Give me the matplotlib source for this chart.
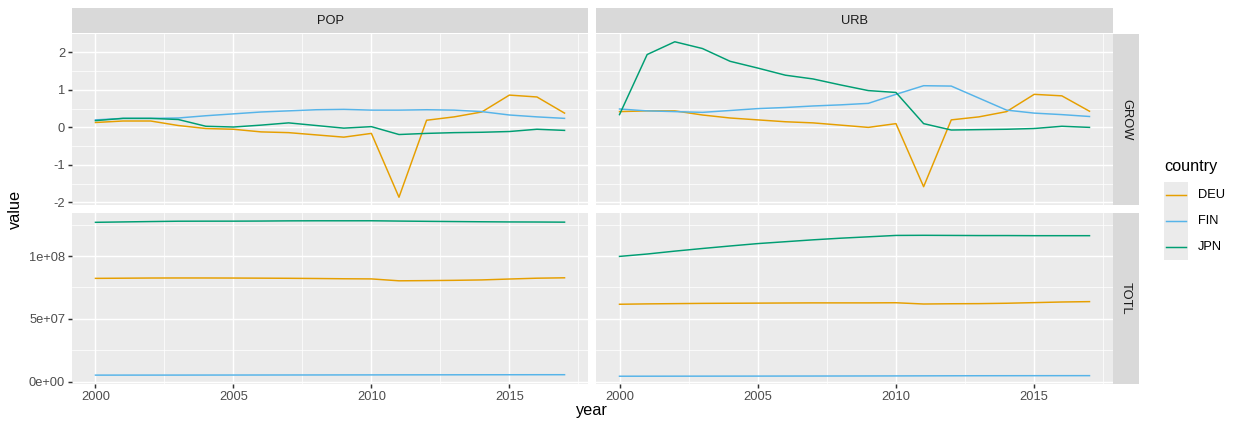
import matplotlib
matplotlib.use("Agg")
import matplotlib.pyplot as plt
from matplotlib.lines import Line2D
from matplotlib.patches import Rectangle

plt.rcParams['font.family'] = ['Liberation Sans', 'DejaVu Sans']

years = list(range(2000, 2018))
countries = ["DEU", "FIN", "JPN"]
colors = ["#E69F00", "#56B4E9", "#009E73"]
col_facets = ["POP", "URB"]
row_facets = ["GROW", "TOTL"]

# growth rates (%)
pop_grow_deu = [0.13, 0.17, 0.17, 0.05, -0.03, -0.05, -0.12, -0.14, -0.20, -0.26,
                -0.16, -1.86, 0.19, 0.28, 0.41, 0.86, 0.81, 0.38]
pop_grow_fin = [0.20, 0.24, 0.24, 0.25, 0.31, 0.36, 0.41, 0.44, 0.47, 0.48,
                0.46, 0.46, 0.47, 0.46, 0.42, 0.33, 0.28, 0.24]
pop_grow_jpn = [0.18, 0.24, 0.24, 0.21, 0.03, 0.01, 0.06, 0.12, 0.05, -0.02,
                0.02, -0.19, -0.16, -0.14, -0.13, -0.11, -0.05, -0.08]
urb_grow_deu = [0.42, 0.44, 0.44, 0.33, 0.25, 0.20, 0.15, 0.12, 0.06, 0.00,
                0.10, -1.58, 0.20, 0.28, 0.42, 0.88, 0.84, 0.43]
urb_grow_fin = [0.49, 0.44, 0.42, 0.40, 0.45, 0.50, 0.53, 0.57, 0.60, 0.64,
                0.88, 1.11, 1.10, 0.78, 0.46, 0.38, 0.34, 0.29]
urb_grow_jpn = [0.34, 1.94, 2.28, 2.10, 1.76, 1.58, 1.39, 1.29, 1.13, 0.98,
                0.93, 0.10, -0.07, -0.06, -0.05, -0.03, 0.03, 0.00]

# totals
pop_totl_deu = [82.21e6, 82.35e6, 82.49e6, 82.53e6, 82.52e6, 82.47e6, 82.38e6, 82.27e6, 82.11e6, 81.90e6,
                81.78e6, 80.27e6, 80.43e6, 80.65e6, 80.98e6, 81.69e6, 82.35e6, 82.66e6]
pop_totl_fin = [5.18e6, 5.19e6, 5.20e6, 5.21e6, 5.23e6, 5.25e6, 5.27e6, 5.29e6, 5.31e6, 5.34e6,
                5.36e6, 5.39e6, 5.41e6, 5.44e6, 5.46e6, 5.48e6, 5.50e6, 5.51e6]
pop_totl_jpn = [126.84e6, 127.15e6, 127.45e6, 127.72e6, 127.76e6, 127.77e6, 127.85e6, 128.00e6, 128.06e6, 128.05e6,
                128.07e6, 127.83e6, 127.63e6, 127.45e6, 127.28e6, 127.14e6, 127.08e6, 126.97e6]
urb_totl_deu = [61.6e6, 61.9e6, 62.1e6, 62.3e6, 62.4e6, 62.5e6, 62.6e6, 62.7e6, 62.7e6, 62.7e6,
                62.8e6, 61.8e6, 62.0e6, 62.1e6, 62.4e6, 62.9e6, 63.4e6, 63.7e6]
urb_totl_fin = [4.30e6, 4.32e6, 4.34e6, 4.36e6, 4.38e6, 4.40e6, 4.43e6, 4.45e6, 4.48e6, 4.51e6,
                4.55e6, 4.60e6, 4.65e6, 4.69e6, 4.71e6, 4.73e6, 4.75e6, 4.76e6]
urb_totl_jpn = [99.7e6, 101.6e6, 103.9e6, 106.0e6, 108.0e6, 109.9e6, 111.4e6, 112.9e6, 114.2e6, 115.3e6,
                116.4e6, 116.5e6, 116.4e6, 116.3e6, 116.3e6, 116.2e6, 116.2e6, 116.2e6]

data = {
    ("GROW", "POP"): [pop_grow_deu, pop_grow_fin, pop_grow_jpn],
    ("GROW", "URB"): [urb_grow_deu, urb_grow_fin, urb_grow_jpn],
    ("TOTL", "POP"): [pop_totl_deu, pop_totl_fin, pop_totl_jpn],
    ("TOTL", "URB"): [urb_totl_deu, urb_totl_fin, urb_totl_jpn],
}
row_major = {"GROW": [-2, -1, 0, 1, 2], "TOTL": [0, 5e7, 1e8]}
row_minor = {"GROW": [-1.5, -0.5, 0.5, 1.5], "TOTL": [2.5e7, 7.5e7, 1.25e8]}
row_fmt = {"GROW": lambda v: f"{v:.0f}", "TOTL": lambda v: f"{v:.0e}"}
x_major = [2000, 2005, 2010, 2015]
x_minor = [2002.5, 2007.5, 2012.5, 2017.5]

W, H = 1242, 432
fig = plt.figure(figsize=(W / 100, H / 100), dpi=100)
fig.patch.set_facecolor("white")

FS_SMALL = 9.3
FS_BIG = 11.7


def px_axes(x0, y0, x1, y1):
    return fig.add_axes([x0 / W, 1 - y1 / H, (x1 - x0) / W, (y1 - y0) / H])


col_x = [(72, 588), (596, 1113)]
row_y = [(34, 205), (213, 384)]

LW_GRID = 1.07
GREY30 = "#4D4D4D"

for ri, rname in enumerate(row_facets):
    vals_all = [v for cname in col_facets for s in data[(rname, cname)] for v in s]
    lo, hi = min(vals_all), max(vals_all)
    pad = 0.05 * (hi - lo)
    for ci, cname in enumerate(col_facets):
        x0, x1 = col_x[ci]
        y0, y1 = row_y[ri]
        ax = px_axes(x0, y0, x1, y1)
        ax.set_facecolor("#EBEBEB")
        for sp in ax.spines.values():
            sp.set_visible(False)
        ax.set_xlim(2000 - 0.05 * 17, 2017 + 0.05 * 17)
        ax.set_ylim(lo - pad, hi + pad)
        ax.set_xticks(x_major)
        ax.set_xticks(x_minor, minor=True)
        ax.set_yticks(row_major[rname])
        ax.set_yticks(row_minor[rname], minor=True)
        ax.grid(which="major", color="white", lw=LW_GRID)
        ax.grid(which="minor", color="white", lw=LW_GRID / 2)
        ax.set_axisbelow(True)
        ax.tick_params(which="minor", length=0)
        ax.tick_params(which="major", length=2.75, width=LW_GRID, color="#333333",
                       labelsize=FS_SMALL, labelcolor=GREY30, pad=2.2)
        ax.set_yticklabels([row_fmt[rname](v) for v in row_major[rname]])
        ax.set_xticklabels([str(v) for v in x_major])
        if ci != 0:
            ax.tick_params(axis="y", which="major", length=0, labelleft=False)
        if ri != len(row_facets) - 1:
            ax.tick_params(axis="x", which="major", length=0, labelbottom=False)
        for k, series in enumerate(data[(rname, cname)]):
            ax.plot(years, series, color=colors[k], lw=1.07, solid_joinstyle="round")

# strips
for ci, cname in enumerate(col_facets):
    x0, x1 = col_x[ci]
    sax = px_axes(x0, 8, x1, 33)
    sax.set_facecolor("#D9D9D9")
    sax.set_xticks([]); sax.set_yticks([])
    for sp in sax.spines.values():
        sp.set_visible(False)
    sax.text(0.5, 0.5, cname, ha="center", va="center", fontsize=FS_SMALL,
             color="#1A1A1A", transform=sax.transAxes)
for ri, rname in enumerate(row_facets):
    y0, y1 = row_y[ri]
    sax = px_axes(1113, y0, 1139, y1)
    sax.set_facecolor("#D9D9D9")
    sax.set_xticks([]); sax.set_yticks([])
    for sp in sax.spines.values():
        sp.set_visible(False)
    sax.text(0.5, 0.5, rname, ha="center", va="center", fontsize=FS_SMALL,
             color="#1A1A1A", rotation=-90, transform=sax.transAxes)

# axis titles
fig.text(15 / W, 1 - 209 / H, "value", rotation=90, ha="center", va="center",
         fontsize=FS_BIG, color="black")
fig.text(592 / W, 1 - 411 / H, "year", ha="center", va="center",
         fontsize=FS_BIG, color="black")

# legend
fig.text(1164 / W, 1 - 167 / H, "country", ha="left", va="center", fontsize=FS_BIG, color="black")
key_top = 182
key_h = 26
for k, name in enumerate(countries):
    ky0 = key_top + k * key_h
    fig.patches.append(Rectangle((1164 / W, 1 - (ky0 + key_h) / H), 24 / W, key_h / H,
                                 transform=fig.transFigure, facecolor="#EBEBEB",
                                 edgecolor="none"))
    yc = 1 - (ky0 + key_h / 2) / H
    fig.lines.append(Line2D([1166 / W, 1186 / W], [yc, yc], transform=fig.transFigure,
                            color=colors[k], lw=1.07))
    fig.text(1198 / W, yc, name, ha="left", va="center", fontsize=FS_SMALL, color="black")

fig.savefig("out.png", dpi=100, facecolor="white")
